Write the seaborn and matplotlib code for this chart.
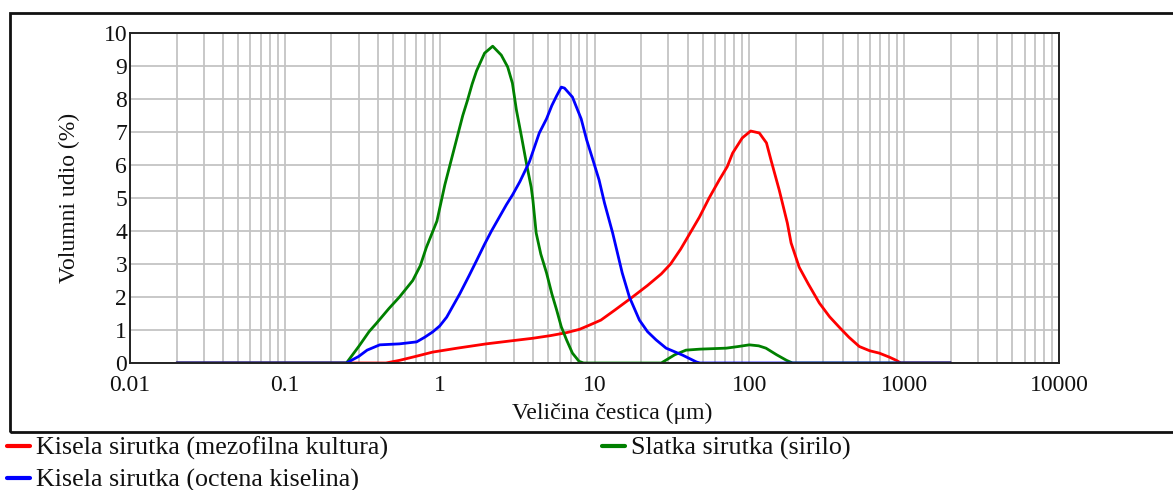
import numpy as np
import pandas as pd
import matplotlib
matplotlib.use("Agg")
import matplotlib.pyplot as plt
from matplotlib.patches import Rectangle
from matplotlib.ticker import FixedLocator, FixedFormatter, LogLocator, NullFormatter
import seaborn as sns

# ---- data ----
red_name = "Kisela sirutka (mezofilna kultura)"
green_name = "Slatka sirutka (sirilo)"
blue_name = "Kisela sirutka (octena kiselina)"

red_x = [0.02, 0.45, 0.55, 0.7, 0.9, 1.3, 2.0, 3.0, 4.0, 5.2, 6.6, 8.0, 9.3, 11, 13.5, 17.6,
         22, 27, 31, 36, 41, 47.6, 55, 64, 72, 78, 90, 102, 116, 129, 138, 156, 176, 186,
         210, 240, 283, 330, 380, 440, 513, 600, 690, 800, 890, 950, 2000]
red_y = [0, 0, 0.08, 0.2, 0.33, 0.45, 0.58, 0.68, 0.75, 0.83, 0.92, 1.02, 1.15, 1.3, 1.6, 2.0,
         2.35, 2.7, 3.0, 3.45, 3.9, 4.42, 5.0, 5.55, 5.95, 6.36, 6.82, 7.03, 6.97, 6.67, 6.15,
         5.24, 4.24, 3.64, 2.9, 2.4, 1.82, 1.4, 1.09, 0.78, 0.5, 0.37, 0.3, 0.18, 0.08, 0, 0]

green_x = [0.02, 0.25, 0.3, 0.35, 0.39, 0.47, 0.55, 0.67, 0.75, 0.82, 0.96, 1.08, 1.22, 1.41,
           1.51, 1.62, 1.73, 1.95, 2.2, 2.5, 2.75, 2.95, 3.13, 3.38, 3.63, 3.9, 4.0, 4.2, 4.5,
           4.9, 5.3, 5.7, 6.1, 6.6, 7.2, 7.95, 8.5, 27, 33, 39, 48, 71, 85, 100, 115, 128, 150,
           174, 190, 2000]
green_y = [0, 0, 0.5, 0.95, 1.2, 1.65, 2.0, 2.5, 2.95, 3.5, 4.3, 5.4, 6.36, 7.5,
           7.95, 8.45, 8.85, 9.39, 9.6, 9.33, 8.97, 8.48, 7.67, 6.85, 6.06, 5.33, 4.94, 3.94, 3.3,
           2.73, 2.1, 1.6, 1.1, 0.7, 0.3, 0.05, 0, 0, 0.25, 0.39, 0.42, 0.45, 0.5, 0.55, 0.52, 0.45,
           0.25, 0.08, 0, 0]

blue_x = [0.02, 0.25, 0.3, 0.34, 0.41, 0.55, 0.71, 0.8, 0.9, 1.0, 1.11, 1.35, 1.55, 1.73, 1.95,
          2.16, 2.7, 2.96, 3.3, 3.8, 4.4, 4.9, 5.3, 5.7, 6.1, 6.4, 7.2, 8.2, 8.9, 9.7, 10.7,
          11.6, 13.1, 15.1, 16.8, 19.5, 22, 25, 29, 37, 45.6, 48, 2000]
blue_y = [0, 0, 0.2, 0.39, 0.55, 0.58, 0.64, 0.78, 0.94, 1.12, 1.39, 2.1, 2.65, 3.1, 3.6,
          4.0, 4.8, 5.1, 5.5, 6.1, 6.97, 7.4, 7.8, 8.1, 8.36, 8.33, 8.06, 7.4, 6.76, 6.2, 5.55,
          4.85, 3.94, 2.73, 2.0, 1.3, 0.95, 0.7, 0.45, 0.24, 0.03, 0, 0]

x_ticks = [0.01, 0.1, 1, 10, 100, 1000, 10000]
x_tick_labels = ["0.01", "0.1", "1", "10", "100", "1000", "10000"]
y_ticks = [0, 1, 2, 3, 4, 5, 6, 7, 8, 9, 10]

df = pd.concat([
    pd.DataFrame({"x": red_x, "y": red_y, "s": red_name}),
    pd.DataFrame({"x": green_x, "y": green_y, "s": green_name}),
    pd.DataFrame({"x": blue_x, "y": blue_y, "s": blue_name}),
], ignore_index=True)

sns.set_style("white")
plt.rcParams["font.family"] = ["Liberation Serif", "DejaVu Serif"]

W, H = 1173, 490
fig = plt.figure(figsize=(W / 100, H / 100), dpi=100)
ax = fig.add_axes([130 / W, 1 - 363 / H, (1059 - 130) / W, (363 - 33) / H])

palette = {red_name: "#ff0000", green_name: "#008000", blue_name: "#0000ff"}
sns.lineplot(data=df, x="x", y="y", hue="s", hue_order=[red_name, green_name, blue_name],
             palette=palette, linewidth=2.0, ax=ax, legend=False, sort=False,
             estimator=None)
for ln in ax.get_lines():
    ln.set_solid_joinstyle("round")
    ln.set_solid_capstyle("round")

ax.set_xscale("log")
ax.set_xlim(0.01, 10000)
ax.set_ylim(0, 10)
ax.xaxis.set_major_locator(FixedLocator(x_ticks))
ax.xaxis.set_major_formatter(FixedFormatter(x_tick_labels))
ax.xaxis.set_minor_locator(LogLocator(base=10, subs=np.arange(2, 10)))
ax.xaxis.set_minor_formatter(NullFormatter())
ax.set_yticks(y_ticks)
ax.tick_params(axis="both", which="both", length=0, labelsize=17, colors="#111111")
ax.tick_params(axis="x", pad=8.5)
ax.tick_params(axis="y", pad=2)
ax.grid(True, which="major", axis="both", color="#c4c4c4", linewidth=1.3)
ax.grid(True, which="minor", axis="x", color="#c4c4c4", linewidth=1.3)
ax.set_axisbelow(True)
for sp in ax.spines.values():
    sp.set_visible(True)
    sp.set_color("#222222")
    sp.set_linewidth(1.4)

ax.set_xlabel("Veličina čestica (μm)", fontsize=17, color="#111111")
ax.xaxis.set_label_coords((612 - 130) / (1059 - 130), -(403 - 363) / (363 - 33))
ax.set_ylabel("Volumni udio (%)", fontsize=17, color="#111111")
ax.yaxis.set_label_coords(-(130 - 80) / (1059 - 130), 0.5)

# outer frame
fig.patches.append(Rectangle((10 / W, 1 - 432 / H), 1.2, (432 - 13) / H,
                             transform=fig.transFigure, fill=False,
                             edgecolor="#111111", linewidth=2.0))

handles = [ax.get_lines()[0], ax.get_lines()[2], ax.get_lines()[1]]
labels = [red_name, blue_name, green_name]
leg = fig.legend(handles, labels, loc="upper left", bbox_to_anchor=(4 / W, 1 - 434 / H),
                 ncol=2, frameon=False, fontsize=18.7, handlelength=0.9,
                 handletextpad=0.22, labelspacing=0.32, columnspacing=8.25,
                 borderaxespad=0, borderpad=0.1)
for t in leg.get_texts():
    t.set_color("#111111")
for h in leg.legend_handles:
    h.set_linewidth(3)

fig.savefig("out.png", dpi=100)
